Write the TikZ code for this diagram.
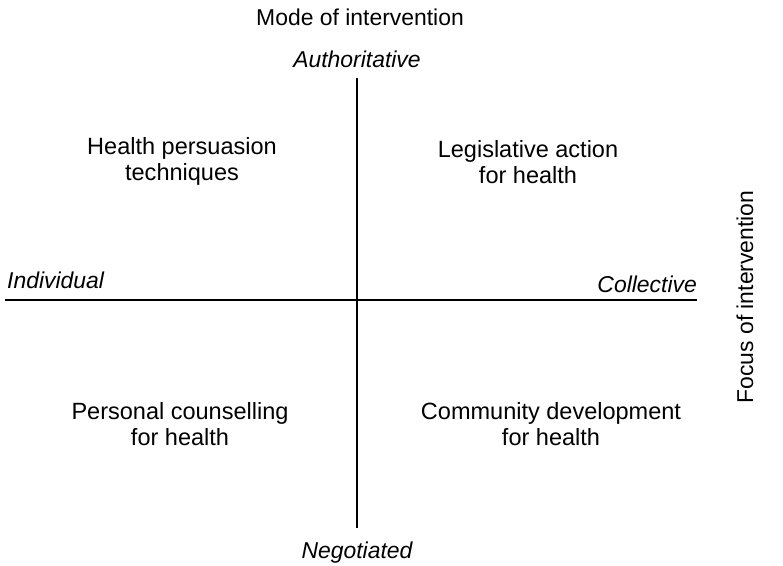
\documentclass[tikz,border=0pt]{standalone}
\usepackage{fontspec}
\setmainfont{Liberation Sans}
\usetikzlibrary{positioning}
\tikzstyle{quad} = [align=center, font=\fontsize{23.6}{26}\selectfont, inner sep=0pt]
\tikzstyle{pole} = [font=\fontsize{23}{27}\selectfont\itshape, inner sep=0pt]
\tikzstyle{title} = [font=\fontsize{23}{27}\selectfont, inner sep=0pt]
\tikzstyle{axis} = [line width=1.4bp]

\begin{document}
\begin{tikzpicture}[x=1bp, y=-1bp]
    \useasboundingbox (0,0) rectangle (783,566);
    % axes
    \coordinate (left) at (5,300);
    \coordinate (right) at (697,300);
    \coordinate (top) at (357,78);
    \coordinate (bottom) at (357,528);
    \draw[axis] (left) -- (right);
    \draw[axis] (top) -- (bottom);

    \node[title] (mode) at (360,17) {Mode of intervention};
    \node[title, rotate=90] (focus) at (745,297) {Focus of intervention};

    \node[pole, above=10bp of top] (auth) {Authoritative};
    \node[pole, below=14bp of bottom] (nego) {Negotiated};
    \node[pole, anchor=base west] (indiv) at (7,288) {Individual};
    \node[pole, anchor=base east] (coll) at (697,292) {Collective};

    \node[quad] (q1) at (182,161) {Health persuasion\\techniques};
    \node[quad] (q2) at (528,162) {Legislative action\\for health};
    \node[quad] (q3) at (180,424) {Personal counselling\\for health};
    \node[quad] (q4) at (551,424) {Community development\\for health};
\end{tikzpicture}
\end{document}
